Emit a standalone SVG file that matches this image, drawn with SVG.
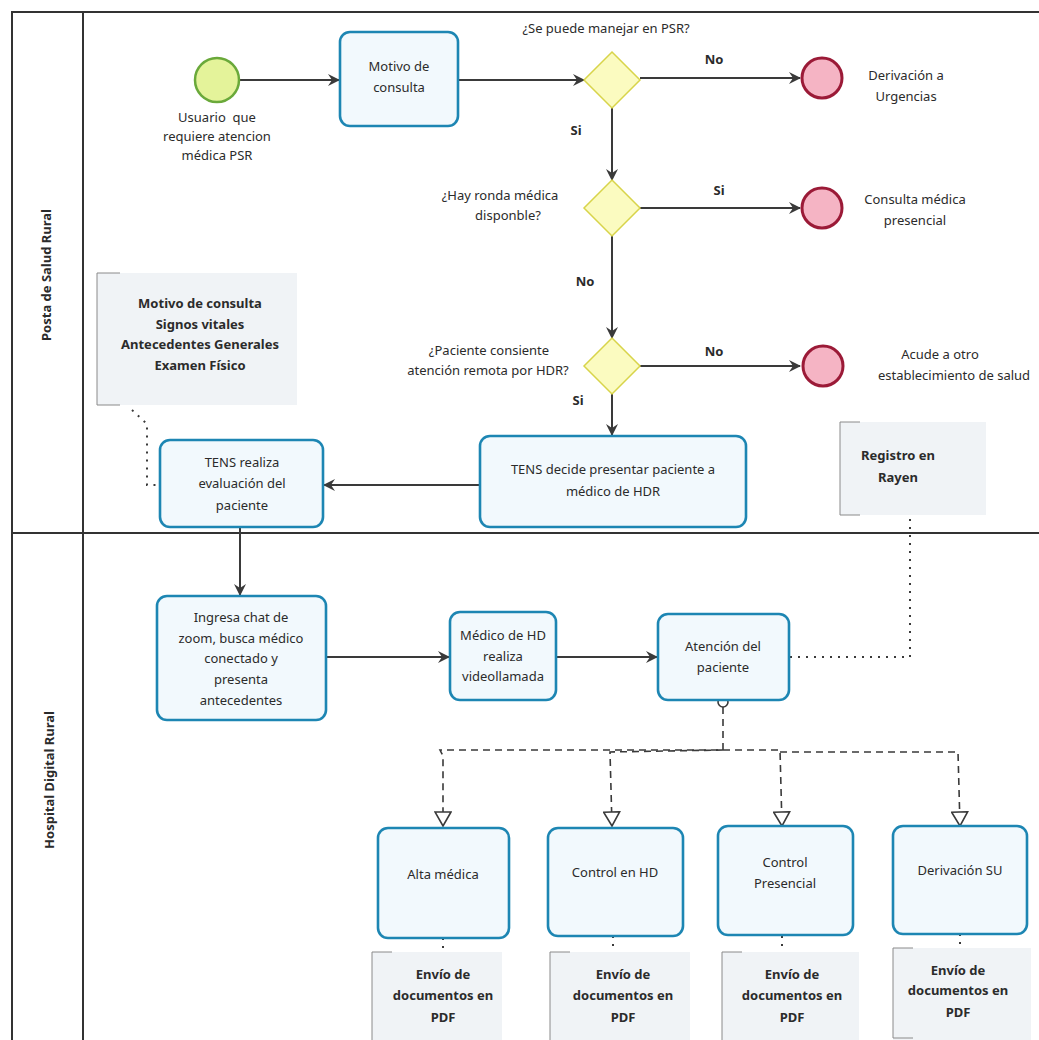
<svg xmlns="http://www.w3.org/2000/svg" width="1039" height="1040" viewBox="0 0 1039 1040">
<defs>
<style>
text{font-family:"Noto Sans","Open Sans","DejaVu Sans",sans-serif;font-size:13px;fill:#2b2b2b;text-anchor:middle}
.b{font-weight:bold}
.lane{font-weight:bold;font-size:13px}
.task{fill:#f2f9fd;stroke:#1d86b3;stroke-width:2.6}
.gw{fill:#fbfbc0;stroke:#d8d44a;stroke-width:1.5}
.end{fill:#f5b4c4;stroke:#9b1a37;stroke-width:3}
.ann{fill:#f0f3f6;stroke:none}
.brk{fill:none;stroke:#8a8a8a;stroke-width:1}
.flow{fill:none;stroke:#3a3a3a;stroke-width:2}
.dot{fill:none;stroke:#3a3a3a;stroke-width:2;stroke-dasharray:2 6}
.msg{fill:none;stroke:#3a3a3a;stroke-width:1.6;stroke-dasharray:7 5}
</style>
<marker id="ar" viewBox="0 0 12 12" refX="11" refY="6" markerWidth="12" markerHeight="12" markerUnits="userSpaceOnUse" orient="auto">
<path d="M0,0 L12,6 L0,12 L4,6 Z" fill="#3a3a3a"/>
</marker>
<marker id="tri" viewBox="0 0 16 18" refX="15" refY="9" markerWidth="16" markerHeight="18" markerUnits="userSpaceOnUse" orient="auto">
<path d="M1,1 L15,9 L1,17 Z" fill="#fff" stroke="#3a3a3a" stroke-width="1.6"/>
</marker>
</defs>
<rect width="1039" height="1040" fill="#ffffff"/>

<g id="pool">
<path d="M1039,12 L12,12 L12,1040 M83,12 L83,1040 M12,533 L1039,533" fill="none" stroke="#333" stroke-width="2"/>
<text class="lane" transform="translate(51,275) rotate(-90)">Posta de Salud Rural</text>
<text class="lane" transform="translate(54,780) rotate(-90)">Hospital Digital Rural</text>
</g>

<g id="connectors">
<line class="flow" x1="240" y1="80" x2="339" y2="80" marker-end="url(#ar)"/>
<line class="flow" x1="458" y1="80" x2="584" y2="80" marker-end="url(#ar)"/>
<line class="flow" x1="640" y1="78" x2="800" y2="78" marker-end="url(#ar)"/>
<line class="flow" x1="612" y1="107" x2="612" y2="180" marker-end="url(#ar)"/>
<line class="flow" x1="640" y1="208" x2="800" y2="208" marker-end="url(#ar)"/>
<line class="flow" x1="612" y1="235" x2="612" y2="338" marker-end="url(#ar)"/>
<line class="flow" x1="640" y1="366" x2="800" y2="366" marker-end="url(#ar)"/>
<line class="flow" x1="612" y1="393" x2="612" y2="435" marker-end="url(#ar)"/>
<line class="flow" x1="480" y1="485" x2="324" y2="485" marker-end="url(#ar)"/>
<line class="flow" x1="240" y1="527" x2="240" y2="595" marker-end="url(#ar)"/>
<line class="flow" x1="326" y1="657" x2="449" y2="657" marker-end="url(#ar)"/>
<line class="flow" x1="556" y1="657" x2="657" y2="657" marker-end="url(#ar)"/>
<polyline class="dot" points="132,410 147,424 147,485 160,485"/>
<polyline class="dot" points="790,657 910,657 910,515"/>
<circle cx="723" cy="702" r="5" fill="#fff" stroke="#3a3a3a" stroke-width="1.6"/>
<polyline class="msg" points="723,707 723,750 440,750 443,756 443,826" marker-end="url(#tri)"/>
<polyline class="msg" points="723,750 610,752 612,826" marker-end="url(#tri)"/>
<polyline class="msg" points="723,750 780,750 782,826" marker-end="url(#tri)"/>
<polyline class="msg" points="780,752 958,752 960,826" marker-end="url(#tri)"/>
<line class="dot" x1="443" y1="938" x2="443" y2="952"/>
<line class="dot" x1="613" y1="936" x2="613" y2="952"/>
<line class="dot" x1="782" y1="936" x2="782" y2="952"/>
<line class="dot" x1="960" y1="934" x2="960" y2="948"/>
</g>

<g id="start">
<circle cx="217" cy="80" r="22" fill="#e4f39a" stroke="#6aa93a" stroke-width="2.5"/>
<text x="217" y="122">Usuario&#160; que</text>
<text x="217" y="141">requiere atencion</text>
<text x="217" y="160">médica PSR</text>
</g>

<g id="motivo">
<rect class="task" x="340" y="32" width="118" height="94" rx="10"/>
<text x="399" y="71">Motivo de</text>
<text x="399" y="92">consulta</text>
</g>

<g id="gw1">
<polygon class="gw" points="612,52 640,80 612,108 584,80"/>
<text x="606" y="33">¿Se puede manejar en PSR?</text>
<text class="b" x="714" y="64">No</text>
<text class="b" x="576" y="135">Si</text>
</g>

<g id="end1">
<circle class="end" cx="822" cy="78" r="20"/>
<text x="906" y="80">Derivación a</text>
<text x="906" y="101">Urgencias</text>
</g>

<g id="gw2">
<polygon class="gw" points="612,180 640,208 612,236 584,208"/>
<text x="500" y="200">¿Hay ronda médica</text>
<text x="508" y="220">disponble?</text>
<text class="b" x="719" y="195">Si</text>
<text class="b" x="585" y="286">No</text>
</g>

<g id="end2">
<circle class="end" cx="822" cy="208" r="20"/>
<text x="915" y="204">Consulta médica</text>
<text x="915" y="225">presencial</text>
</g>

<g id="gw3">
<polygon class="gw" points="612,338 640,366 612,394 584,366"/>
<text x="489" y="355">¿Paciente consiente</text>
<text x="488" y="375">atención remota por HDR?</text>
<text class="b" x="714" y="356">No</text>
<text class="b" x="578" y="405">Si</text>
</g>

<g id="end3">
<circle class="end" cx="823" cy="366" r="20"/>
<text x="940" y="359">Acude a otro</text>
<text x="954" y="380">establecimiento de salud</text>
</g>

<g id="tens-decide">
<rect class="task" x="480" y="436" width="266" height="91" rx="10"/>
<text x="613" y="474">TENS decide presentar paciente a</text>
<text x="613" y="496">médico de HDR</text>
</g>

<g id="tens-evalua">
<rect class="task" x="160" y="440" width="163" height="87" rx="10"/>
<text x="242" y="467">TENS realiza</text>
<text x="242" y="488">evaluación del</text>
<text x="242" y="510">paciente</text>
</g>

<g id="ann-motivo">
<rect class="ann" x="97" y="273" width="200" height="132"/>
<path class="brk" d="M120,273 L97,273 L97,405 L120,405"/>
<text class="b" x="200" y="308">Motivo de consulta</text>
<text class="b" x="200" y="329">Signos vitales</text>
<text class="b" x="200" y="349">Antecedentes Generales</text>
<text class="b" x="200" y="370">Examen Físico</text>
</g>

<g id="ann-rayen">
<rect class="ann" x="840" y="422" width="146" height="93"/>
<path class="brk" d="M860,422 L840,422 L840,515 L860,515"/>
<text class="b" x="898" y="460">Registro en</text>
<text class="b" x="898" y="482">Rayen</text>
</g>

<g id="ingresa">
<rect class="task" x="157" y="596" width="169" height="124" rx="10"/>
<text x="241" y="622">Ingresa chat de</text>
<text x="241" y="643">zoom, busca médico</text>
<text x="241" y="663">conectado y</text>
<text x="241" y="684">presenta</text>
<text x="241" y="705">antecedentes</text>
</g>

<g id="medico">
<rect class="task" x="450" y="612" width="106" height="88" rx="10"/>
<text x="503" y="640">Médico de HD</text>
<text x="503" y="661">realiza</text>
<text x="503" y="681">videollamada</text>
</g>

<g id="atencion">
<rect class="task" x="658" y="614" width="131" height="86" rx="10"/>
<text x="723" y="651">Atención del</text>
<text x="723" y="672">paciente</text>
</g>

<g id="alta">
<rect class="task" x="378" y="828" width="131" height="110" rx="10"/>
<text x="443" y="879">Alta médica</text>
</g>

<g id="control-hd">
<rect class="task" x="548" y="828" width="135" height="108" rx="10"/>
<text x="615" y="877">Control en HD</text>
</g>

<g id="control-pres">
<rect class="task" x="718" y="826" width="135" height="109" rx="10"/>
<text x="785" y="867">Control</text>
<text x="785" y="888">Presencial</text>
</g>

<g id="derivacion-su">
<rect class="task" x="893" y="826" width="134" height="108" rx="10"/>
<text x="960" y="875">Derivación SU</text>
</g>

<g id="ann-pdf1">
<rect class="ann" x="372" y="952" width="130" height="88"/>
<path class="brk" d="M392,952 L372,952 L372,1040"/>
<text class="b" x="443" y="979">Envío de</text>
<text class="b" x="443" y="1000">documentos en</text>
<text class="b" x="443" y="1022">PDF</text>
</g>

<g id="ann-pdf2">
<rect class="ann" x="550" y="952" width="140" height="88"/>
<path class="brk" d="M570,952 L550,952 L550,1040"/>
<text class="b" x="623" y="979">Envío de</text>
<text class="b" x="623" y="1000">documentos en</text>
<text class="b" x="623" y="1022">PDF</text>
</g>

<g id="ann-pdf3">
<rect class="ann" x="722" y="952" width="137" height="88"/>
<path class="brk" d="M742,952 L722,952 L722,1040"/>
<text class="b" x="792" y="979">Envío de</text>
<text class="b" x="792" y="1000">documentos en</text>
<text class="b" x="792" y="1022">PDF</text>
</g>

<g id="ann-pdf4">
<rect class="ann" x="893" y="948" width="138" height="92"/>
<path class="brk" d="M913,948 L893,948 L893,1038 L913,1038"/>
<text class="b" x="958" y="975">Envío de</text>
<text class="b" x="958" y="995">documentos en</text>
<text class="b" x="958" y="1017">PDF</text>
</g>
</svg>
